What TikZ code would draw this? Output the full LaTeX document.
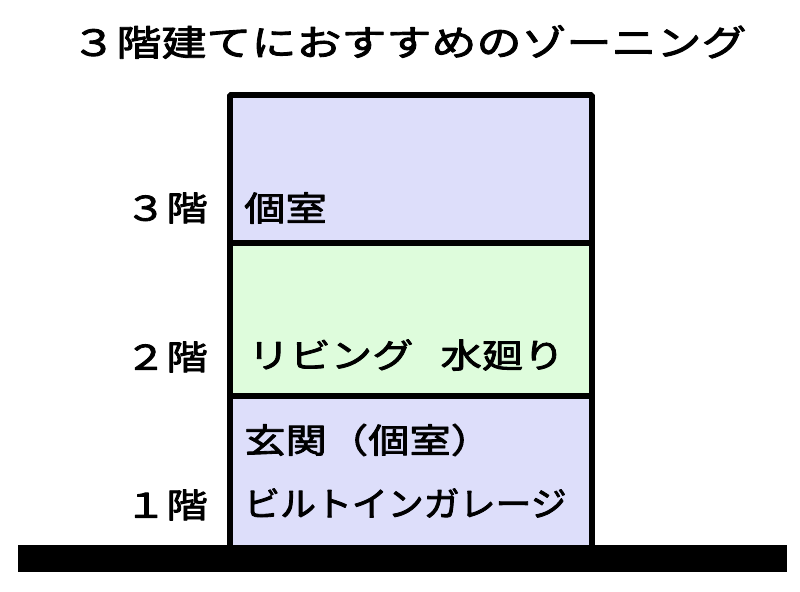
\documentclass[tikz,border=0pt]{standalone}
\usepackage{fontspec}
\setmainfont{Noto Sans CJK JP}[FakeStretch=1.22,FakeBold=2.5]
\newfontfamily\narrowjp{Noto Sans CJK JP}[FakeStretch=1.06,FakeBold=2.5]
\newfontfamily\widejp{Noto Sans CJK JP}[FakeStretch=1.255,FakeBold=2.5]
\definecolor{roomblue}{RGB}{221,222,250}
\definecolor{roomgreen}{RGB}{222,252,220}

\begin{document}
\begin{tikzpicture}[x=1bp,y=1bp,line join=bevel,
  floorlabel/.style={anchor=east,inner sep=0pt,font=\fontsize{34}{38}\selectfont},
  roomlabel/.style={anchor=west,inner sep=0pt,font=\fontsize{34}{38}\selectfont}]
\useasboundingbox (0bp,0bp) rectangle (800bp,592bp);
%%
\fill [roomblue] (230bp,349bp) rectangle (592bp,497bp);
\fill [roomgreen] (230bp,196bp) rectangle (592bp,349bp);
\fill [roomblue] (230bp,47bp) rectangle (592bp,196bp);
\draw [black,line width=5.5bp] (230bp,47bp) -- (230bp,497bp) -- (592bp,497bp) -- (592bp,47bp);
\draw [black,line width=5.5bp] (230bp,349bp) -- (592bp,349bp);
\draw [black,line width=5.5bp] (230bp,196bp) -- (592bp,196bp);
\fill [black] (18bp,20bp) rectangle (787bp,47bp);
%
\node (title) at (409bp,550bp) [inner sep=0pt,font=\fontsize{36}{40}\widejp] {３階建てにおすすめのゾーニング};
\node (floor_3) at (208bp,384bp) [floorlabel] {３階};
\node (floor_2) at (208bp,235bp) [floorlabel] {２階};
\node (floor_1) at (208bp,87bp) [floorlabel] {１階};
\node (room_3) at (244bp,384bp) [roomlabel] {個室};
\node (room_2) at (248bp,237bp) [roomlabel] {リビング\hspace{0.8em}水廻り};
\node (room_1a) at (244bp,152bp) [roomlabel] {玄関（個室）};
\node (room_1b) at (244bp,89bp) [roomlabel,font=\fontsize{34}{38}\narrowjp] {ビルトインガレージ};
%
\end{tikzpicture}
\end{document}
